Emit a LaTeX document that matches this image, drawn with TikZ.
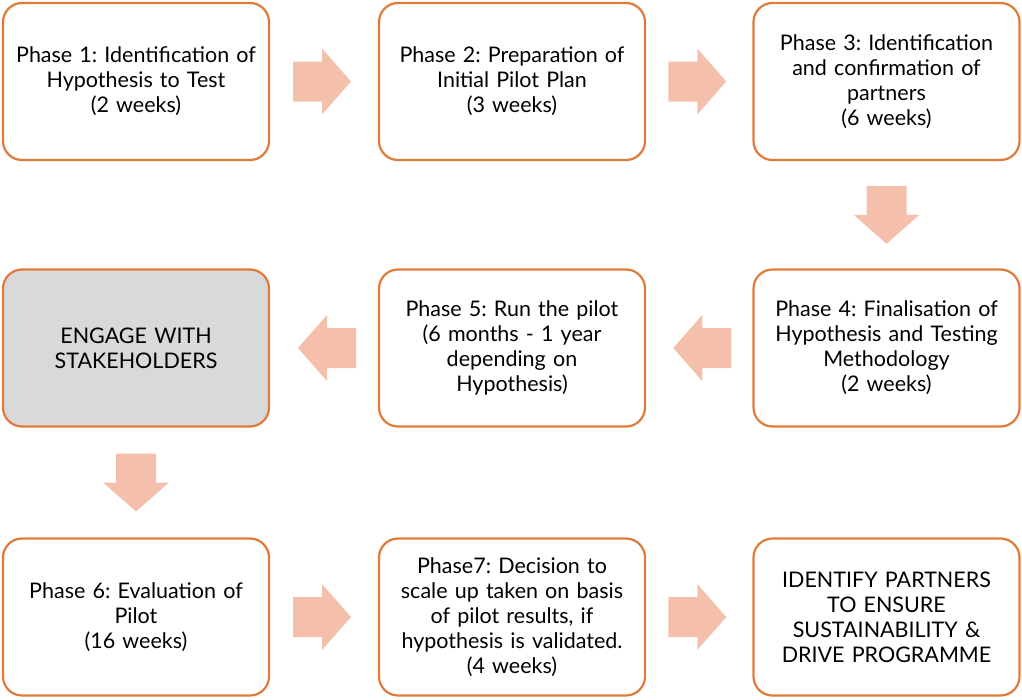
\documentclass[tikz,border=0pt]{standalone}
\usepackage{fontspec}
\setmainfont{Lato}
\usetikzlibrary{calc}
\frenchspacing
\definecolor{boxline}{HTML}{E07B39}
\definecolor{arrowfill}{HTML}{F4C0AC}
\definecolor{engagefill}{HTML}{D9D9D9}
\tikzset{
  phase/.style={draw=boxline, line width=2.2pt, rounded corners=19pt, fill=white,
    minimum width=266pt, minimum height=157pt, inner sep=0pt,
    align=center, text width=250pt,
    font=\fontsize{21.5}{25}\selectfont},
  engage/.style={phase, fill=engagefill},
  blockarrow/.pic={\fill[arrowfill] (-29,-20) -- (0,-20) -- (0,-33) -- (29,0)
    -- (0,33) -- (0,20) -- (-29,20) -- cycle;}
}
\begin{document}
\begin{tikzpicture}[x=1pt, y=-1pt]
  \useasboundingbox (0,0) rectangle (1022,699);

  % top row
  \node[phase] (p1) at (136,81.5) {Phase 1: Identification of\\Hypothesis to Test\\(2 weeks)};
  \node[phase] (p2) at (512,81.5) {Phase 2: Preparation of\\Initial Pilot Plan\\(3 weeks)};
  \node[phase] (p3) at (886.5,81.5) {Phase 3: Identification\\and confirmation of\\partners\\(6 weeks)};

  % middle row
  \node[engage] (eng) at (136,348) {ENGAGE WITH\\STAKEHOLDERS};
  \node[phase] (p5) at (512,348) {Phase 5: Run the pilot\\(6 months - 1 year\\depending on\\Hypothesis)};
  \node[phase] (p4) at (886.5,348) {Phase 4: Finalisation of\\Hypothesis and Testing\\Methodology\\(2 weeks)};

  % bottom row
  \node[phase] (p6) at (136,617) {Phase 6: Evaluation of\\Pilot\\(16 weeks)};
  \node[phase] (p7) at (512,617) {Phase7: Decision to\\scale up taken on basis\\of pilot results, if\\hypothesis is validated.\\(4 weeks)};
  \node[phase] (sus) at (886.5,617) {IDENTIFY PARTNERS\\TO ENSURE\\SUSTAINABILITY \&\\DRIVE PROGRAMME};

  % block arrows between the stages
  \pic at ($(p1.east)!0.5!(p2.west)+(-2,0)$) {blockarrow};
  \pic at ($(p2.east)!0.5!(p3.west)+(-2,0)$) {blockarrow};
  \pic[rotate=-90] at ($(p3.south)!0.5!(p4.north)$) {blockarrow};
  \pic[rotate=180] at ($(p4.west)!0.5!(p5.east)+(3,0)$) {blockarrow};
  \pic[rotate=180] at ($(p5.west)!0.5!(eng.east)+(3,0)$) {blockarrow};
  \pic[rotate=-90] at ($(eng.south)!0.5!(p6.north)$) {blockarrow};
  \pic at ($(p6.east)!0.5!(p7.west)+(-2,0)$) {blockarrow};
  \pic at ($(p7.east)!0.5!(sus.west)+(-2,0)$) {blockarrow};
\end{tikzpicture}
\end{document}
